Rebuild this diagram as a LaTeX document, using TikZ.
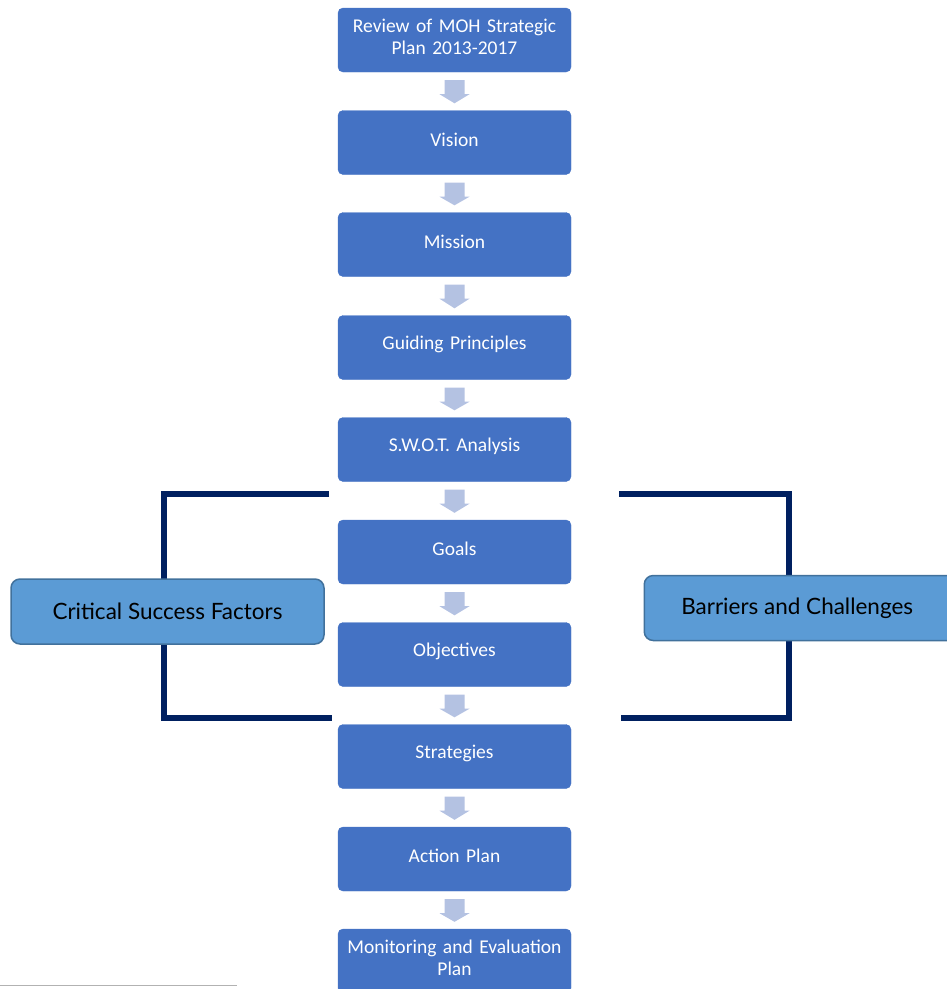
\documentclass[tikz,border=0pt]{standalone}
\usepackage{fontspec}
\setmainfont{Carlito}
\newfontfamily\sidefont{Lato}
\usetikzlibrary{calc}
\definecolor{boxblue}{HTML}{4472C4}
\definecolor{arrowgrey}{HTML}{B4C2E2}
\definecolor{sideblue}{HTML}{5B9BD5}
\definecolor{sideedge}{HTML}{41719C}
\definecolor{navy}{HTML}{002060}
\tikzset{
  stepbox/.style={draw=boxblue, fill=boxblue, rounded corners=5pt, minimum width=233pt, minimum height=64pt, inner sep=0pt},
  steptext/.style={text width=230pt, align=center, text=white, font=\fontsize{19.5}{21.5}\selectfont, inner sep=0pt, yshift=3pt},
  sidebox/.style={draw=sideedge, line width=1.5pt, fill=sideblue, rounded corners=9pt, minimum height=65pt, inner sep=0pt, text=black, font=\sidefont\fontsize{22.5}{26}\selectfont},
  bracket/.style={draw=navy, line width=6pt},
  blockarrow/.style={fill=arrowgrey, draw=none}
}
\begin{document}
\begin{tikzpicture}[x=1pt,y=-1pt]
\useasboundingbox (0,0) rectangle (947,989);
% brackets (behind side boxes)
\coordinate (lt) at (329,494);
\coordinate (lc) at (164,494);
\coordinate (lb) at (164,718);
\coordinate (le) at (332,718);
\coordinate (rt) at (619,494);
\coordinate (rc) at (789,494);
\coordinate (rb) at (789,718);
\coordinate (re) at (621,718);
\draw[bracket] (lt) -- (lc) -- (lb) -- (le);
\draw[bracket] (rt) -- (rc) -- (rb) -- (re);
% main column
\node[stepbox, label={[steptext]center:Review of MOH Strategic\\Plan 2013-2017}] (n1) at (454.5,40) {};
\node[stepbox, label={[steptext]center:Vision}] (n2) at (454.5,142.5) {};
\node[stepbox, label={[steptext]center:Mission}] (n3) at (454.5,244.5) {};
\node[stepbox, label={[steptext]center:Guiding Principles}] (n4) at (454.5,347.5) {};
\node[stepbox, label={[steptext]center:S.W.O.T. Analysis}] (n5) at (454.5,449.5) {};
\node[stepbox, label={[steptext]center:Goals}] (n6) at (454.5,552) {};
\node[stepbox, label={[steptext]center:Objectives}] (n7) at (454.5,654.5) {};
\node[stepbox, label={[steptext]center:Strategies}] (n8) at (454.5,756.5) {};
\node[stepbox, label={[steptext]center:Action Plan}] (n9) at (454.5,859) {};
\node[stepbox, label={[steptext]center:Monitoring and Evaluation\\Plan}] (n10) at (454.5,961) {};
% block arrows
\foreach \a/\b in {n1/n2,n2/n3,n3/n4,n4/n5,n5/n6,n6/n7,n7/n8,n8/n9,n9/n10}{
  \fill[blockarrow] ($(\a.south)+(-10,8)$) -- ($(\a.south)+(10,8)$) -- ($(\a.south)+(10,22)$) -- ($(\a.south)+(15,22)$) -- ($(\b.north)+(0,-7)$) -- ($(\a.south)+(-15,22)$) -- ($(\a.south)+(-10,22)$) -- cycle;
}
% side boxes
\node[sidebox, minimum width=313pt] (csf) at (167.5,611.5) {Critical Success Factors};
\node[sidebox, minimum width=330pt, anchor=west] (bc) at (643.5,608) {\hspace*{-24pt}Barriers and Challenges};
% footnote rule
\coordinate (fa) at (0,985);
\coordinate (fb) at (237,985);
\draw[gray!60, line width=0.8pt] (fa) -- (fb);
\end{tikzpicture}
\end{document}
